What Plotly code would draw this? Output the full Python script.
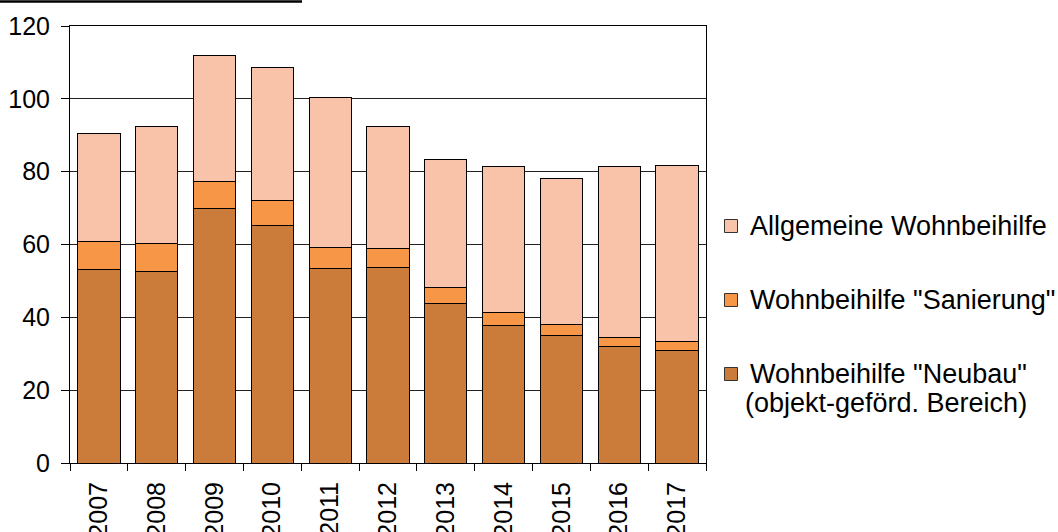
import plotly.graph_objects as go

years = ["2007", "2008", "2009", "2010", "2011", "2012", "2013", "2014", "2015", "2016", "2017"]
neubau = [53.2, 52.6, 69.8, 65.3, 53.5, 53.8, 43.8, 37.8, 34.9, 31.9, 31.0]
sanierung = [7.7, 7.7, 7.4, 6.8, 5.8, 5.1, 4.3, 3.6, 3.2, 2.6, 2.3]
allgemeine = [29.5, 32.0, 34.8, 36.6, 41.1, 33.4, 35.3, 40.1, 39.9, 47.0, 48.4]

series_names = ["Wohnbeihilfe \"Neubau\"", "Wohnbeihilfe \"Sanierung\"", "Allgemeine Wohnbeihilfe"]
neubau_note = "(objekt-geförd. Bereich)"
colors = ["#CB7B3A", "#F79646", "#F9C3AA"]

FONT = "Liberation Sans, Arial, sans-serif"

W, H = 1058, 532
ML, MR, MT, MB = 70, 352, 26, 69
PW, PH = W - ML - MR, H - MT - MB


def px_x(px):
    return (px - ML) / PW


def px_y(py):
    return (H - MB - py) / PH


fig = go.Figure()
for vals, name, col in zip([neubau, sanierung, allgemeine], series_names, colors):
    fig.add_trace(go.Bar(
        x=years, y=vals, name=name,
        marker=dict(color=col, line=dict(color="#000000", width=1)),
    ))

# legend drawn as shapes + annotations (top-to-bottom: Allgemeine, Sanierung, Neubau)
legend_rows = [(2, 226), (1, 300), (0, 374)]
shapes = [dict(type="line", xref="paper", yref="paper",
               x0=px_x(0), x1=px_x(302), y0=px_y(1.5), y1=px_y(1.5),
               line=dict(color="#000000", width=2.5))]
annotations = []
for idx, cy in legend_rows:
    shapes.append(dict(type="rect", xref="paper", yref="paper",
                       x0=px_x(724.5), x1=px_x(737.5), y0=px_y(cy - 6.5), y1=px_y(cy + 6.5),
                       fillcolor=colors[idx], line=dict(color="#333333", width=1)))
    annotations.append(dict(xref="paper", yref="paper", x=px_x(748), y=px_y(cy),
                            xanchor="left", yanchor="middle", showarrow=False,
                            text=series_names[idx],
                            font=dict(family=FONT, size=27, color="#000000")))
annotations.append(dict(xref="paper", yref="paper", x=px_x(743), y=px_y(403),
                        xanchor="left", yanchor="middle", showarrow=False,
                        text=neubau_note,
                        font=dict(family=FONT, size=27, color="#000000")))

fig.update_layout(
    barmode="stack",
    bargap=0.27,
    width=W, height=H,
    margin=dict(l=ML, r=MR, t=MT, b=MB),
    paper_bgcolor="white", plot_bgcolor="white",
    font=dict(family=FONT, size=25, color="#000000"),
    showlegend=False,
    xaxis=dict(
        type="category",
        tickangle=-90,
        ticks="outside", ticklen=7, tickcolor="#000000", tickwidth=1,
        tickson="boundaries",
        showline=True, linecolor="#000000", linewidth=1, mirror=True,
        showgrid=False,
        automargin=False,
        tickfont=dict(family=FONT, size=25),
        ticklabelstandoff=8,
    ),
    yaxis=dict(
        range=[0, 120], dtick=20, tick0=0,
        ticks="outside", ticklen=8, tickcolor="#000000", tickwidth=1,
        showline=True, linecolor="#000000", linewidth=1, mirror=True,
        showgrid=True, gridcolor="#222222", gridwidth=1,
        zeroline=False,
        automargin=False,
        tickfont=dict(family=FONT, size=25),
        ticklabelstandoff=6,
    ),
    shapes=shapes,
    annotations=annotations,
)

fig.write_html("out.html")
